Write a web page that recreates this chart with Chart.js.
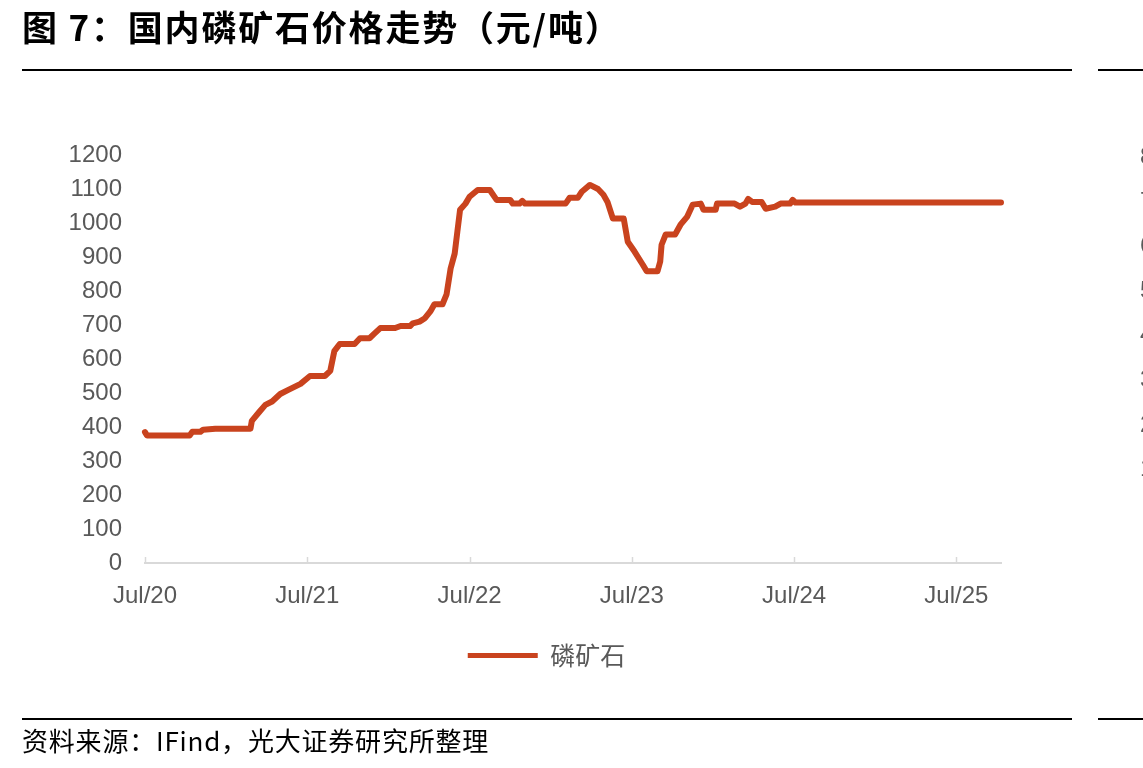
<!DOCTYPE html>
<html>
<head>
<meta charset="utf-8">
<script src="https://cdn.jsdelivr.net/npm/chart.js@4/dist/chart.umd.min.js"></script>
<style>
  html, body { margin:0; padding:0; background:#fff; }
  body { width:1143px; height:768px; position:relative; overflow:hidden; }
  #wrap { position:absolute; left:0; top:0; width:1143px; height:768px; }
  .title { position:absolute; left:22px; top:0px; font-family:"Noto Sans CJK SC"; font-weight:700; font-size:35px; color:#000; white-space:nowrap; letter-spacing:1.8px; }
  .rule { position:absolute; height:2px; background:#000; }
  .source { position:absolute; left:22px; top:721px; font-family:"Noto Sans CJK SC"; font-size:26px; color:#000; white-space:nowrap; letter-spacing:0.8px; }
  .nb { position:absolute; left:1140px; font-family:"Liberation Sans"; font-size:24px; color:#595959; }
</style>
</head>
<body>
<div id="wrap"><canvas id="c" width="1143" height="768"></canvas></div>
<div class="title">图 7：国内磷矿石价格走势（元/吨）</div>
<div class="rule" style="left:22px; width:1050px; top:69px;"></div>
<div class="rule" style="left:1098px; width:45px; top:69px;"></div>
<div class="rule" style="left:22px; width:1050px; top:718px;"></div>
<div class="rule" style="left:1098px; width:45px; top:718px;"></div>
<div class="source">资料来源：IFind，光大证券研究所整理</div>
<div id="nbw"></div>
<script>
// Months since Jul 2020
const months = [0, 0.15, 3.3, 3.5, 4.1, 4.3, 5.2, 7.8, 7.9, 8.4, 8.9, 9.4, 10.0, 10.6, 11.5, 12.2, 13.3, 13.7, 14.0, 14.4,
  15.5, 15.9, 16.6, 17.0, 17.4, 18.5, 18.9, 19.6, 19.8, 20.3, 20.7, 21.1, 21.4, 22.0, 22.3, 22.6, 22.9, 23.1, 23.3, 23.7,
  24.0, 24.6, 25.5, 26.0, 27.0, 27.2, 27.7, 27.9, 28.1, 31.1, 31.4, 32.0, 32.3, 32.9, 33.5, 33.9, 34.2, 34.6, 35.4, 35.7,
  36.2, 36.8, 37.1, 37.9, 38.1, 38.2, 38.5, 39.2, 39.6, 40.1, 40.5, 41.1, 41.3, 42.2, 42.3, 43.6, 44.0, 44.4, 44.6, 44.9,
  45.6, 45.9, 46.6, 47.0, 47.7, 47.9, 48.1, 63.3];
const prices = [385, 375, 375, 386, 386, 392, 395, 395, 418, 442, 465, 475, 497, 509, 527, 550, 550, 565, 623, 644,
  644, 661, 661, 676, 691, 691, 697, 697, 705, 710, 720, 740, 761, 761, 790, 866, 910, 975, 1039, 1057,
  1077, 1097, 1097, 1068, 1068, 1057, 1057, 1065, 1057, 1057, 1074, 1074, 1092, 1112, 1100, 1083, 1062, 1013, 1013, 945,
  916, 878, 858, 858, 887, 936, 966, 966, 995, 1019, 1054, 1057, 1039, 1039, 1057, 1057, 1048, 1057, 1071, 1062,
  1062, 1042, 1048, 1057, 1057, 1068, 1060, 1060];
const tickMonths = [0, 12, 24, 36, 48, 60];
const tickLabels = ['Jul/20', 'Jul/21', 'Jul/22', 'Jul/23', 'Jul/24', 'Jul/25'];
const seriesName = '磷矿石';
const yTicks = [0, 100, 200, 300, 400, 500, 600, 700, 800, 900, 1000, 1100, 1200];
// clipped labels of the neighbouring chart at the right edge
const neighbourLabels = ['8', '7', '6', '5', '4', '3', '2', '1'];

const nbw = document.getElementById('nbw');
neighbourLabels.forEach((t, i) => {
  const d = document.createElement('div');
  d.className = 'nb';
  d.style.top = (142 + i * 44.6) + 'px';
  d.textContent = t;
  nbw.appendChild(d);
});

const LINE = '#C9431E';
const GREY = '#595959';

const tickMarks = {
  id: 'tickMarks',
  afterLayout(chart) {
    if (chart.legend) { chart.legend.left += 46; chart.legend.right += 46; }
  },
  afterDatasetsDraw(chart) {
    const x = chart.scales.x, ctx = chart.ctx;
    const b = chart.chartArea.bottom;
    ctx.save();
    ctx.strokeStyle = '#d9d9d9';
    ctx.lineWidth = 1.5;
    tickMonths.forEach(m => {
      const px = Math.round(x.getPixelForValue(m)) + 0.5;
      ctx.beginPath(); ctx.moveTo(px, b - 6); ctx.lineTo(px, b); ctx.stroke();
    });
    ctx.restore();
  }
};

new Chart(document.getElementById('c'), {
  type: 'line',
  data: {
    datasets: [{
      label: seriesName,
      data: months.map((m, i) => ({ x: m, y: prices[i] })),
      borderColor: LINE,
      backgroundColor: LINE,
      borderWidth: 6,
      pointRadius: 0,
      tension: 0,
      borderJoinStyle: 'round',
      borderCapStyle: 'round',
      clip: false
    }]
  },
  options: {
    responsive: false,
    animation: false,
    devicePixelRatio: 1,
    layout: { padding: { top: 155, left: 0, right: 142, bottom: 90 } },
    plugins: {
      tooltip: { enabled: false },
      legend: {
        position: 'bottom',
        labels: {
          font: { family: '"Noto Sans CJK SC"', size: 25 },
          color: GREY,
          boxWidth: 70,
          boxHeight: 5,
          padding: 10,
          generateLabels(chart) {
            return [{ text: seriesName, fillStyle: LINE, strokeStyle: LINE, lineWidth: 0, datasetIndex: 0, fontColor: GREY }];
          }
        }
      }
    },
    scales: {
      x: {
        type: 'linear',
        min: 0,
        max: 63.3,
        afterBuildTicks(axis) { axis.ticks = tickMonths.map(v => ({ value: v })); },
        afterFit(scale) { scale.height = 70; },
        grid: { display: false, drawTicks: false },
        border: { display: true, color: '#d9d9d9', width: 2 },
        ticks: {
          autoSkip: false,
          maxRotation: 0,
          padding: 19,
          color: GREY,
          font: { family: '"Liberation Sans"', size: 24 },
          callback(v) { const i = tickMonths.indexOf(v); return i >= 0 ? tickLabels[i] : ''; }
        }
      },
      y: {
        min: 0,
        max: 1200,
        afterBuildTicks(axis) { axis.ticks = yTicks.map(v => ({ value: v })); },
        afterFit(scale) { scale.width = 145; },
        grid: { display: false, drawTicks: false },
        border: { display: false },
        ticks: {
          padding: 23,
          color: GREY,
          font: { family: '"Liberation Sans"', size: 24 },
          callback(v) { return String(v); }
        }
      }
    }
  },
  plugins: [tickMarks]
});
</script>
</body>
</html>
